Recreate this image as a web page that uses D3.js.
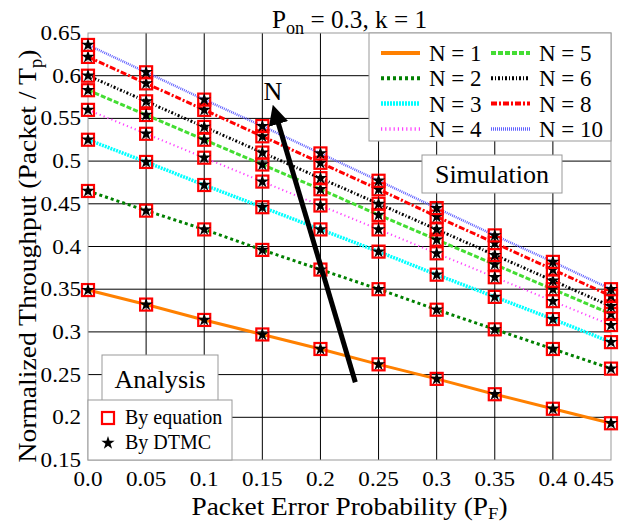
<!DOCTYPE html>
<html lang="en">
<head>
<meta charset="UTF-8">
<title>Normalized Throughput vs Packet Error Probability</title>
<script src="https://d3js.org/d3.v7.min.js"></script>
<style>
  body { margin: 0; background: #fff; }
</style>
</head>
<body>
<div id="chart"></div>
<script>
// Datos
const pF = [0.0, 0.05, 0.1, 0.15, 0.2, 0.25, 0.3, 0.35, 0.4, 0.45];
const xTickLabels = ["0.0", "0.05", "0.1", "0.15", "0.2", "0.25", "0.3", "0.35", "0.4", "0.45"];
const yTicks = [0.15, 0.2, 0.25, 0.3, 0.35, 0.4, 0.45, 0.5, 0.55, 0.6, 0.65];
const yTickLabels = ["0.15", "0.2", "0.25", "0.3", "0.35", "0.4", "0.45", "0.5", "0.55", "0.6", "0.65"];

const seriesNames = ["N = 1", "N = 2", "N = 3", "N = 4", "N = 5", "N = 6", "N = 8", "N = 10"];
const n1  = [0.349, 0.332, 0.314, 0.297, 0.280, 0.262, 0.245, 0.227, 0.210, 0.193];
const n2  = [0.465, 0.442, 0.420, 0.396, 0.373, 0.350, 0.326, 0.303, 0.280, 0.257];
const n3  = [0.525, 0.499, 0.472, 0.446, 0.420, 0.394, 0.367, 0.341, 0.315, 0.288];
const n4  = [0.560, 0.532, 0.504, 0.476, 0.448, 0.420, 0.392, 0.364, 0.336, 0.308];
const n5  = [0.583, 0.554, 0.525, 0.496, 0.467, 0.437, 0.408, 0.379, 0.350, 0.321];
const n6  = [0.600, 0.570, 0.540, 0.510, 0.480, 0.450, 0.420, 0.390, 0.360, 0.330];
const n8  = [0.622, 0.591, 0.560, 0.529, 0.498, 0.467, 0.435, 0.404, 0.373, 0.342];
const n10 = [0.636, 0.604, 0.572, 0.541, 0.509, 0.477, 0.445, 0.413, 0.382, 0.350];
const seriesValues = [n1, n2, n3, n4, n5, n6, n8, n10];

// Estilo de cada curva
const styles = [
  {color: "#ff8000", width: 3,   dash: null},
  {color: "#008000", width: 3,   dash: "3,3"},
  {color: "#00ffff", width: 3.5, dash: "2,1"},
  {color: "#ff40ff", width: 2,   dash: "1.2,3"},
  {color: "#44dd33", width: 3,   dash: "5,2"},
  {color: "#000000", width: 3,   dash: "2,2,1,2"},
  {color: "#ff0000", width: 3,   dash: "6,2,2,2"},
  {color: "#6060ff", width: 2.5, dash: "1,1"}
];

const FONT = "'Liberation Serif', 'Times New Roman', Times, serif";

const W = 629, H = 525;
const margin = {top: 33, right: 18, bottom: 65, left: 88};
const width = W - margin.left - margin.right;
const height = H - margin.top - margin.bottom;

// estira el texto en horizontal (la figura original esta algo ensanchada)
function stretch(sel, k) {
  sel.each(function() {
    const L = this.getComputedTextLength();
    d3.select(this).attr("textLength", L * k).attr("lengthAdjust", "spacingAndGlyphs");
  });
}
function fitTo(sel, len) {
  sel.attr("textLength", len).attr("lengthAdjust", "spacingAndGlyphs");
}

const svg = d3.select("#chart").append("svg")
  .attr("width", W).attr("height", H)
  .attr("font-family", FONT);

const g = svg.append("g").attr("transform", `translate(${margin.left},${margin.top})`);

const x = d3.scaleLinear().domain([0, 0.45]).range([0, width]);
const y = d3.scaleLinear().domain([0.15, 0.65]).range([height, 0]);

// Cuadricula
g.append("g").selectAll("line").data(pF.slice(1, -1)).enter().append("line")
  .attr("x1", d => x(d)).attr("x2", d => x(d))
  .attr("y1", 0).attr("y2", height)
  .attr("stroke", "#000").attr("stroke-width", 1);
g.append("g").selectAll("line").data(yTicks.slice(1, -1)).enter().append("line")
  .attr("x1", 0).attr("x2", width)
  .attr("y1", d => y(d)).attr("y2", d => y(d))
  .attr("stroke", "#000").attr("stroke-width", 1);

// Borde del grafico
g.append("rect").attr("width", width).attr("height", height)
  .attr("fill", "none").attr("stroke", "#999").attr("stroke-width", 1);

// Etiquetas de ejes (la ultima se alinea a la derecha para no cortarse)
const last = pF.length - 1;
const xt = g.append("g").selectAll("text").data(pF).enter().append("text")
  .attr("x", (d, i) => i === last ? x(d) + 3 : x(d)).attr("y", height + 26)
  .attr("text-anchor", (d, i) => i === last ? "end" : "middle")
  .attr("font-family", FONT).attr("font-size", 21)
  .text((d, i) => xTickLabels[i]);
stretch(xt, 1.1);
const yt = g.append("g").selectAll("text").data(yTicks).enter().append("text")
  .attr("x", -7).attr("y", d => y(d) + 7)
  .attr("text-anchor", "end").attr("font-family", FONT).attr("font-size", 21)
  .text((d, i) => yTickLabels[i]);
stretch(yt, 1.1);

// Titulos
const title = svg.append("text").attr("x", margin.left + width / 2).attr("y", 28)
  .attr("text-anchor", "middle").attr("font-family", FONT).attr("font-size", 25);
title.append("tspan").text("P");
title.append("tspan").attr("dy", 6).attr("font-size", 18).text("on");
title.append("tspan").attr("dy", -6).text(" = 0.3, k = 1");
fitTo(title, 155);

const xl = svg.append("text").attr("x", margin.left + width / 2).attr("y", 515)
  .attr("text-anchor", "middle").attr("font-family", FONT).attr("font-size", 25);
xl.append("tspan").text("Packet Error Probability (P");
xl.append("tspan").attr("dy", 4).attr("font-size", 17).text("F");
xl.append("tspan").attr("dy", -4).text(")");
fitTo(xl, 316);

const yl = svg.append("text")
  .attr("transform", `translate(36,256) rotate(-90)`)
  .attr("text-anchor", "middle").attr("font-family", FONT).attr("font-size", 26);
yl.append("tspan").text("Normalized Throughput (Packet / T");
yl.append("tspan").attr("dy", 6).attr("font-size", 18).text("p");
yl.append("tspan").attr("dy", -6).text(")");
fitTo(yl, 413);

// Cajas de anotacion
function box(x0, y0, w, h) {
  g.append("rect").attr("x", x0).attr("y", y0).attr("width", w).attr("height", h)
    .attr("fill", "#fff").attr("stroke", "#999").attr("stroke-width", 1);
}
// leyenda superior derecha
box(281, 0, width - 281, 108);
// Simulation
box(334, 122, 140, 38);
g.append("text").attr("x", 404).attr("y", 150).attr("text-anchor", "middle")
  .attr("font-family", FONT).attr("font-size", 26).text("Simulation");
// Analysis
box(14, 322, 116, 46);
g.append("text").attr("x", 72).attr("y", 355).attr("text-anchor", "middle")
  .attr("font-family", FONT).attr("font-size", 26).text("Analysis");
// leyenda de marcadores
box(0, 367, 144, height - 367);

// Curvas
const line = d3.line().x(d => x(d.p)).y(d => y(d.v));
seriesValues.forEach((vals, i) => {
  const pts = vals.map((v, j) => ({p: pF[j], v: v}));
  g.append("path").datum(pts)
    .attr("fill", "none")
    .attr("stroke", styles[i].color)
    .attr("stroke-width", styles[i].width)
    .attr("stroke-dasharray", styles[i].dash)
    .attr("d", line);
});

// Marcadores: cuadrado rojo (ecuacion) y estrella negra (DTMC)
const star = d3.symbol().type(d3.symbolStar).size(55);
seriesValues.forEach(vals => {
  const pts = vals.map((v, j) => ({p: pF[j], v: v}));
  g.append("g").selectAll("rect").data(pts).enter().append("rect")
    .attr("x", d => x(d.p) - 6).attr("y", d => y(d.v) - 6)
    .attr("width", 12).attr("height", 12)
    .attr("fill", "none").attr("stroke", "#ff0000").attr("stroke-width", 2.2);
  g.append("g").selectAll("path").data(pts).enter().append("path")
    .attr("transform", d => `translate(${x(d.p)},${y(d.v)})`)
    .attr("d", star).attr("fill", "#000");
});

// Leyenda de curvas
const legend = g.append("g").attr("transform", "translate(293,20)");
seriesNames.forEach((name, i) => {
  const col = Math.floor(i / 4), row = i % 4;
  const lg = legend.append("g").attr("transform", `translate(${col * 110},${row * 25.3})`);
  lg.append("line").attr("x1", 0).attr("x2", 39).attr("y1", 0).attr("y2", 0)
    .attr("stroke", styles[i].color)
    .attr("stroke-width", Math.max(styles[i].width + 1, 3.5))
    .attr("stroke-dasharray", styles[i].dash);
  lg.append("text").attr("x", 48).attr("y", 8)
    .attr("font-family", FONT).attr("font-size", 23).text(name);
});

// Leyenda de marcadores
g.append("rect").attr("x", 14).attr("y", 379).attr("width", 12).attr("height", 12)
  .attr("fill", "none").attr("stroke", "#ff0000").attr("stroke-width", 2.2);
g.append("text").attr("x", 37).attr("y", 391)
  .attr("font-family", FONT).attr("font-size", 20).text("By equation");
g.append("path").attr("transform", "translate(20,410)").attr("d", star).attr("fill", "#000");
g.append("text").attr("x", 37).attr("y", 416)
  .attr("font-family", FONT).attr("font-size", 20).text("By DTMC");

// Flecha de crecimiento de N
const arrowTail = {p: 0.23, v: 0.241};
const arrowHead = {p: 0.159, v: 0.566};
svg.append("defs").append("marker")
  .attr("id", "arrow").attr("viewBox", "0 0 10 10")
  .attr("refX", 2).attr("refY", 5)
  .attr("markerWidth", 4).attr("markerHeight", 4)
  .attr("orient", "auto")
  .append("path").attr("d", "M 0 0 L 10 5 L 0 10 z").attr("fill", "#000");
const ang = Math.atan2(y(arrowHead.v) - y(arrowTail.v), x(arrowHead.p) - x(arrowTail.p));
g.append("line")
  .attr("x1", x(arrowTail.p)).attr("y1", y(arrowTail.v))
  .attr("x2", x(arrowHead.p) - 16 * Math.cos(ang)).attr("y2", y(arrowHead.v) - 16 * Math.sin(ang))
  .attr("stroke", "#000").attr("stroke-width", 5)
  .attr("marker-end", "url(#arrow)");
g.append("text").attr("x", x(arrowHead.p)).attr("y", y(arrowHead.v) - 5)
  .attr("text-anchor", "middle").attr("font-family", FONT).attr("font-size", 26).text("N");
</script>
</body>
</html>
